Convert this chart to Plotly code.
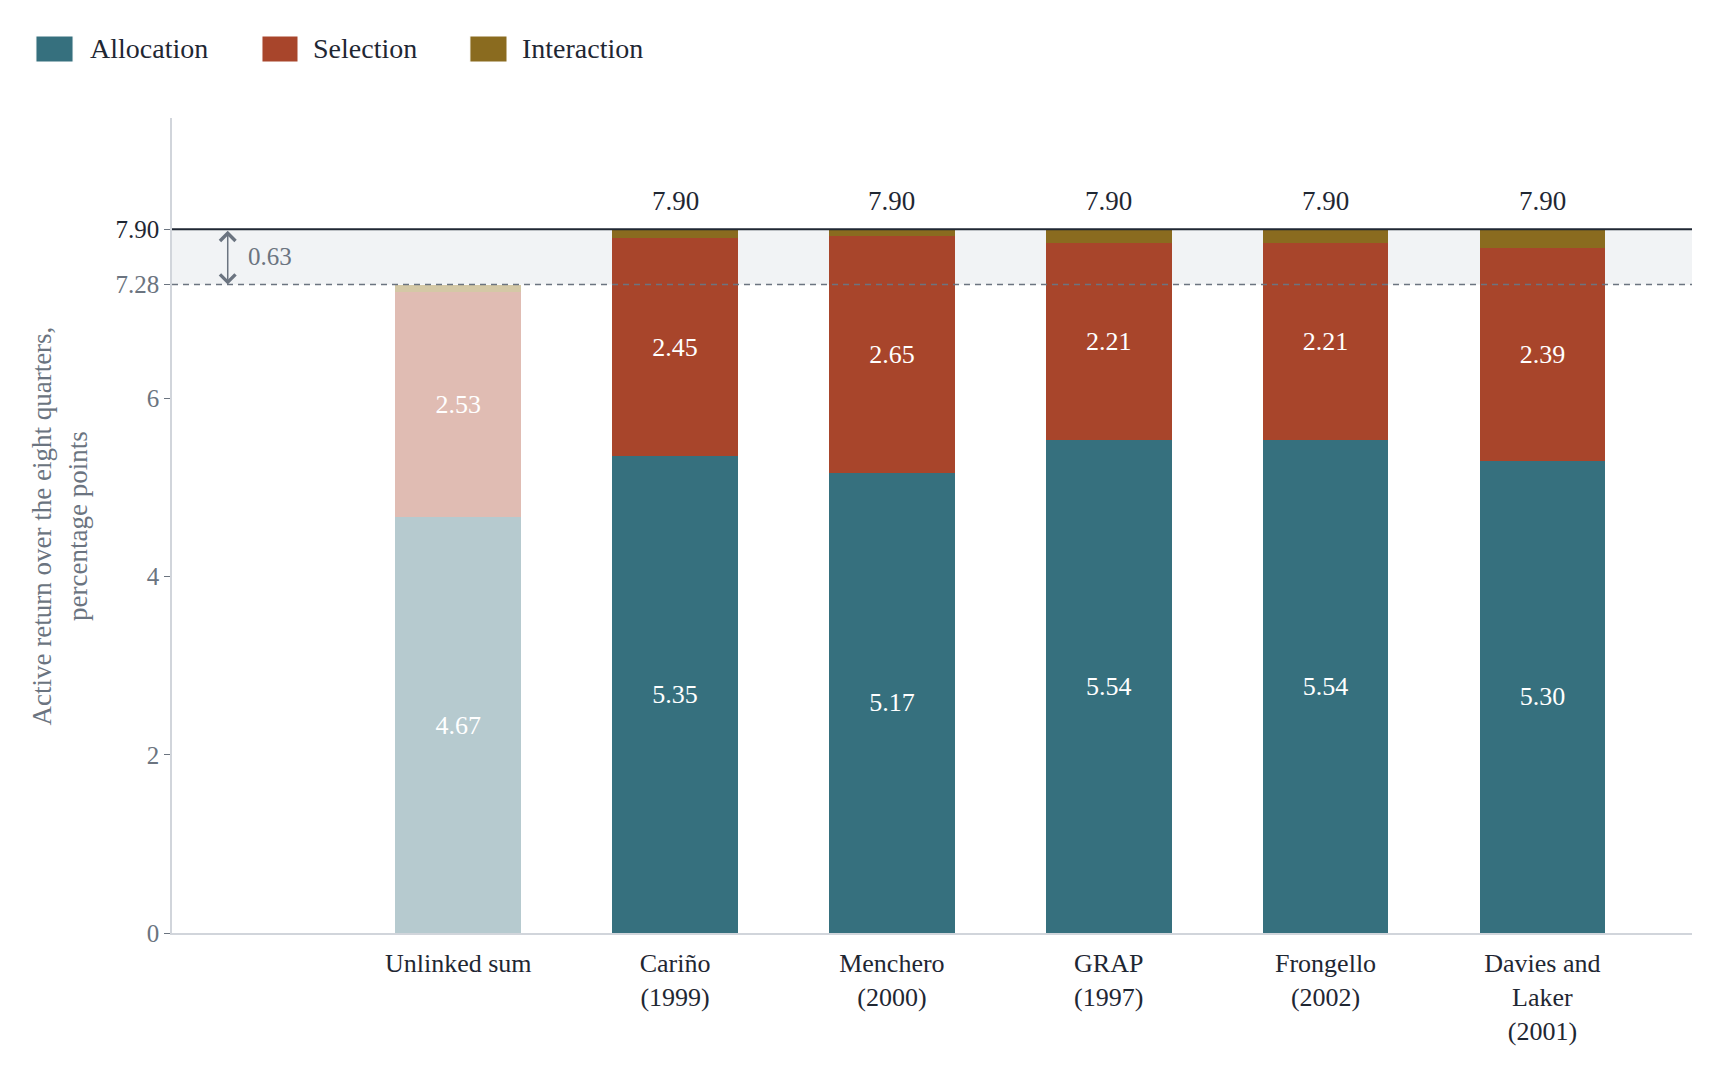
import plotly.graph_objects as go

methods = ["Unlinked sum", "Cariño<br>(1999)", "Menchero<br>(2000)", "GRAP<br>(1997)",
           "Frongello<br>(2002)", "Davies and<br>Laker<br>(2001)"]
allocation = [4.67, 5.35, 5.17, 5.54, 5.54, 5.30]
selection = [2.53, 2.45, 2.65, 2.21, 2.21, 2.39]
interaction = [0.08, 0.10, 0.08, 0.15, 0.15, 0.21]
totals = [7.28, 7.90, 7.90, 7.90, 7.90, 7.90]
linked_total = 7.90
unlinked_total = 7.28
gap = 0.63

positions = list(range(1, len(methods) + 1))
FONT = "Liberation Serif"
DARK = "#1f2733"
GRAY = "#6b7480"

colors = {
    "Allocation": ("#36707e", "#b6cacf"),
    "Selection": ("#a8452b", "#e0bcb3"),
    "Interaction": ("#8a6b1f", "#d4c8a6"),
}

fig = go.Figure()
for name, vals, labelled in [("Allocation", allocation, True),
                             ("Selection", selection, True),
                             ("Interaction", interaction, False)]:
    strong, faded = colors[name]
    fig.add_trace(go.Bar(
        x=positions, y=vals, name=name, width=0.58, showlegend=False,
        marker=dict(color=[faded] + [strong] * (len(vals) - 1), line=dict(width=0)),
        text=[f"{v:.2f}" for v in vals] if labelled else None,
        textposition="inside" if labelled else "none",
        insidetextanchor="middle", textangle=0,
        constraintext="none",
        textfont=dict(family=FONT, size=26, color="white"),
        hoverinfo="skip",
    ))

# totals above the linked bars
for xpos, tot in zip(positions[1:], totals[1:]):
    fig.add_annotation(x=xpos, y=tot, xref="x", yref="y", text=f"{tot:.2f}",
                       showarrow=False, yanchor="middle", yshift=28,
                       font=dict(family=FONT, size=27, color=DARK))

# band between unlinked and linked totals
fig.add_shape(type="rect", xref="paper", x0=0, x1=1, y0=unlinked_total, y1=linked_total,
              fillcolor="#f1f3f5", line_width=0, layer="below")
fig.add_shape(type="line", xref="paper", x0=0, x1=1, y0=linked_total, y1=linked_total,
              line=dict(color=DARK, width=2), layer="above")
fig.add_shape(type="line", xref="paper", x0=0, x1=1, y0=unlinked_total, y1=unlinked_total,
              line=dict(color=GRAY, width=1.5, dash="6px,5px"), layer="above")

fig.add_annotation(x=-0.063, y=unlinked_total, ax=-0.063, ay=linked_total,
                   xref="x", yref="y", axref="x", ayref="y", text="",
                   showarrow=True, arrowside="end+start", arrowhead=4, arrowsize=2,
                   arrowwidth=1.5, arrowcolor=GRAY)
fig.add_annotation(x=0.02, y=(unlinked_total + linked_total) / 2, xref="x", yref="y",
                   text=f"{gap:.2f}", showarrow=False, xanchor="left",
                   font=dict(family=FONT, size=25, color=GRAY))

# legend drawn by hand (large square swatches)
legend_items = [("Allocation", -0.0895, -0.0651, -0.0553),
                ("Selection", 0.0592, 0.0829, 0.0914),
                ("Interaction", 0.196, 0.2204, 0.2289)]
for name, x0, x1, xt in legend_items:
    fig.add_shape(type="rect", xref="paper", yref="paper", x0=x0, x1=x1, y0=1.0687, y1=1.1006,
                  fillcolor=colors[name][0], line=dict(color="white", width=1))
    fig.add_annotation(x=xt, y=1.0847, xref="paper", yref="paper", text=name,
                       showarrow=False, xanchor="left", yanchor="middle",
                       font=dict(family=FONT, size=28, color=DARK))

fig.add_annotation(x=-0.0737, y=0.5, xref="paper", yref="paper",
                   text="Active return over the eight quarters,<br>percentage points",
                   showarrow=False, textangle=-90, xanchor="center", yanchor="middle",
                   font=dict(family=FONT, size=27, color=GRAY))

ytick_vals = [0, 2, 4, 6, unlinked_total, linked_total]
ytick_text = ["0", "2", "4", "6", "7.28", f"<span style='color:{DARK}'>7.90</span>"]

fig.update_layout(
    barmode="stack",
    template="plotly_white",
    width=1701, height=1051,
    margin=dict(l=164, r=17, t=110, b=126),
    font=dict(family=FONT, size=22, color=GRAY),
    plot_bgcolor="white",
    paper_bgcolor="white",
    showlegend=False,
)
fig.update_xaxes(
    range=[-0.32, 6.69], tickmode="array", tickvals=positions, ticktext=methods,
    showline=True, linecolor="#d1d5db", linewidth=1.5, showgrid=False, ticks="",
    tickfont=dict(family=FONT, size=26, color=DARK), zeroline=False,
    ticklabelstandoff=6, automargin=False,
)
fig.update_yaxes(
    range=[0, 9.15], tickmode="array", tickvals=ytick_vals, ticktext=ytick_text,
    showline=True, linecolor="#d1d5db", linewidth=1.5, showgrid=False, zeroline=False,
    ticks="outside", ticklen=6, tickcolor=GRAY, automargin=False,
    tickfont=dict(family=FONT, size=25, color=GRAY),
)

fig.write_html("out.html")
